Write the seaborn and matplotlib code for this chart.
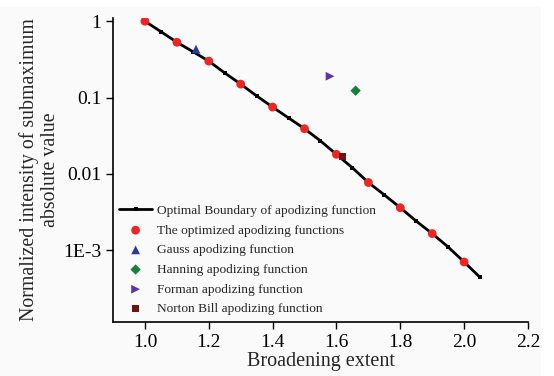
import matplotlib
matplotlib.use("Agg")
import matplotlib.pyplot as plt
import matplotlib.patches as mpatches
import seaborn as sns

# Data
boundary_x = [1.00, 1.05, 1.10, 1.15, 1.20, 1.25, 1.30, 1.35, 1.40, 1.45, 1.50,
              1.55, 1.60, 1.65, 1.70, 1.75, 1.80, 1.85, 1.90, 1.95, 2.00, 2.05]
boundary_y = [1.0, 0.73, 0.53, 0.40, 0.30, 0.21, 0.15, 0.105, 0.075, 0.054, 0.039,
              0.027, 0.018, 0.012, 0.0077, 0.0053, 0.0036, 0.0024, 0.00165, 0.0011, 0.0007, 0.00044]
opt_x = [1.0, 1.1, 1.2, 1.3, 1.4, 1.5, 1.6, 1.7, 1.8, 1.9, 2.0]
opt_y = [1.0, 0.53, 0.30, 0.15, 0.075, 0.039, 0.018, 0.0077, 0.0036, 0.00165, 0.0007]
gauss_x, gauss_y = [1.16], [0.43]
hanning_x, hanning_y = [1.66], [0.123]
forman_x, forman_y = [1.58], [0.19]
norton_x, norton_y = [1.62], [0.017]

labels = ["Optimal Boundary of apodizing function",
          "The optimized apodizing functions",
          "Gauss apodizing function",
          "Hanning apodizing function",
          "Forman apodizing function",
          "Norton Bill apodizing function"]
xticks = [1.0, 1.2, 1.4, 1.6, 1.8, 2.0, 2.2]
yticks = [1, 0.1, 0.01, 0.001]
yticklabels = ["1", "0.1", "0.01", "1E-3"]

sns.set_style("ticks")
plt.rcParams['font.family'] = ['Liberation Serif', 'DejaVu Serif']

fig = plt.figure(figsize=(5.54, 3.76), dpi=100, facecolor="white")
fig.patches.append(mpatches.Rectangle((0, 0.0), 0.977, 0.981, transform=fig.transFigure,
                                      facecolor="#fafafa", edgecolor="none", zorder=-10))
ax = fig.add_axes([0.204, 0.144, 0.749, 0.808])
ax.set_facecolor("none")

sns.lineplot(x=boundary_x, y=boundary_y, ax=ax, color="black", lw=2.0,
             marker="s", markersize=2.8, markeredgewidth=0, label=labels[0])
sns.scatterplot(x=opt_x, y=opt_y, ax=ax, color="#ee2525", marker="o", s=40,
                edgecolor="none", label=labels[1], zorder=3)
sns.scatterplot(x=gauss_x, y=gauss_y, ax=ax, color="#2b3a9c", marker="^", s=40,
                edgecolor="none", label=labels[2], zorder=3)
sns.scatterplot(x=hanning_x, y=hanning_y, ax=ax, color="#16803c", marker="D", s=28,
                edgecolor="none", label=labels[3], zorder=3)
sns.scatterplot(x=forman_x, y=forman_y, ax=ax, color="#5a35a8", marker=">", s=40,
                edgecolor="none", label=labels[4], zorder=3)
sns.scatterplot(x=norton_x, y=norton_y, ax=ax, color="#6e1414", marker="s", s=26,
                edgecolor="none", label=labels[5], zorder=3)

ax.set_yscale("log")
ax.set_xlim(0.9, 2.2)
ax.set_ylim(1.15e-4, 1.1)
ax.set_xticks(xticks)
ax.set_xticklabels([f"{v:.1f}" for v in xticks])
ax.set_yticks(yticks)
ax.set_yticklabels(yticklabels)
ax.yaxis.set_minor_locator(matplotlib.ticker.NullLocator())
ax.tick_params(axis="both", labelsize=14, direction="out", length=5, width=1, colors="black")
for s in ["top", "right"]:
    ax.spines[s].set_visible(False)
for s in ["left", "bottom"]:
    ax.spines[s].set_linewidth(1.2)
    ax.spines[s].set_color("black")

ax.set_xlabel("Broadening extent", fontsize=14.5, labelpad=1)
ax.set_ylabel("Normalized intensity of submaximum\nabsolute value", fontsize=14.3,
              labelpad=2, linespacing=1.15)

leg = ax.legend(loc="lower left", bbox_to_anchor=(-0.005, -0.005), frameon=False,
                fontsize=9.6, handlelength=2.5, handletextpad=0.38, labelspacing=0.55,
                borderaxespad=0.2)

fig.savefig("out.png", dpi=100, facecolor=fig.get_facecolor())
